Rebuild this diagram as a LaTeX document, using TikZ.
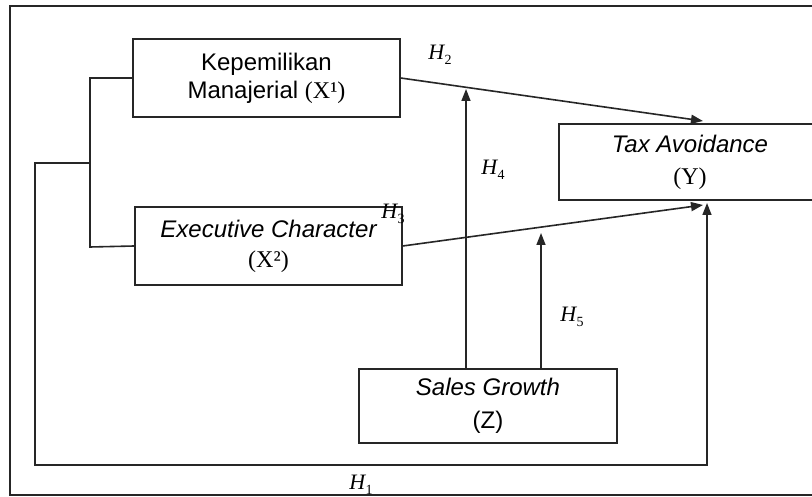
\documentclass[tikz,border=0pt]{standalone}
\usepackage{fontspec}
\setmainfont{Liberation Sans}
\newfontfamily\serifpart{Liberation Serif}
\usetikzlibrary{arrows.meta}
% hypothesis label: italic H with an upright subscript
\newcommand{\hyplabel}[1]{{\serifpart\itshape H\kern0.5pt}\raisebox{-5pt}{\fontsize{14}{14}\selectfont\serifpart #1}}
\tikzset{
  varbox/.style={draw=black!85, line width=1.5pt, align=center, inner sep=0pt,
    font=\fontsize{24}{30}\selectfont},
  link/.style={draw=black!85, line width=1.6pt},
  arrowlink/.style={link, -{Triangle[length=12pt,width=9pt]}},
  hyp/.style={inner sep=0pt, font=\fontsize{22}{24}\selectfont},
  frameline/.style={draw=black!85, line width=1.6pt}
}
\begin{document}
\begin{tikzpicture}[x=1pt, y=-1pt]
  \clip (0,0) rectangle (812,497);
  \fill[white] (0,0) rectangle (812,497);

  % outer frame (its right side runs past the page)
  \draw[frameline] (830,6) -- (10,6) -- (10,495) -- (830,495);

  % variables
  \node[varbox, minimum width=267pt, minimum height=78pt] (x1) at (266.5,78)
    {Kepemilikan\\[-2pt]Manajerial {\serifpart(X¹)}};
  \node[varbox, minimum width=267pt, minimum height=78pt] (x2) at (268.5,246)
    {\itshape Executive Character\\{\serifpart(X²)}};
  \node[varbox, minimum width=262pt, minimum height=76pt] (y) at (690,162)
    {\itshape Tax Avoidance\\[2pt]{\serifpart(Y)}};
  \node[varbox, minimum width=258pt, minimum height=74pt] (z) at (488,406)
    {\itshape Sales Growth\\[3pt](Z)};

  % arrow end points on the dependent variable and on the paths
  \coordinate (ytop) at (703,121);
  \coordinate (ybot) at (703,205);
  \coordinate (ybot1) at (707,203);
  \coordinate (m4) at (466,89);
  \coordinate (m5) at (541,233);
  \coordinate (zl) at (466,369);
  \coordinate (zr) at (541,369);

  % bracket joining both independent variables
  \coordinate (bt) at (90,78);
  \coordinate (bb) at (90,247);
  \coordinate (bm) at (90,163);
  \coordinate (lm) at (35,163);
  \coordinate (lb) at (35,465);
  \coordinate (rb) at (707,465);

  \draw[link] (x1.west) -- (bt) -- (bb) -- (x2.west);
  \draw[arrowlink] (bm) -- (lm) -- (lb) -- (rb) -- (ybot1);

  % direct effects
  \draw[arrowlink] (x1.east) -- (ytop);
  \draw[arrowlink] (x2.east) -- (ybot);

  % moderating effects
  \draw[arrowlink] (zl) -- (m4);
  \draw[arrowlink] (zr) -- (m5);

  % hypothesis labels
  \node[hyp] (h2) at (440,55) {\hyplabel{2}};
  \node[hyp] (h4) at (493,170) {\hyplabel{4}};
  \node[hyp] (h3) at (393,214) {\hyplabel{3}};
  \node[hyp] (h5) at (572,317) {\hyplabel{5}};
  \node[hyp] (h1) at (361,485) {\hyplabel{1}};
\end{tikzpicture}
\end{document}
